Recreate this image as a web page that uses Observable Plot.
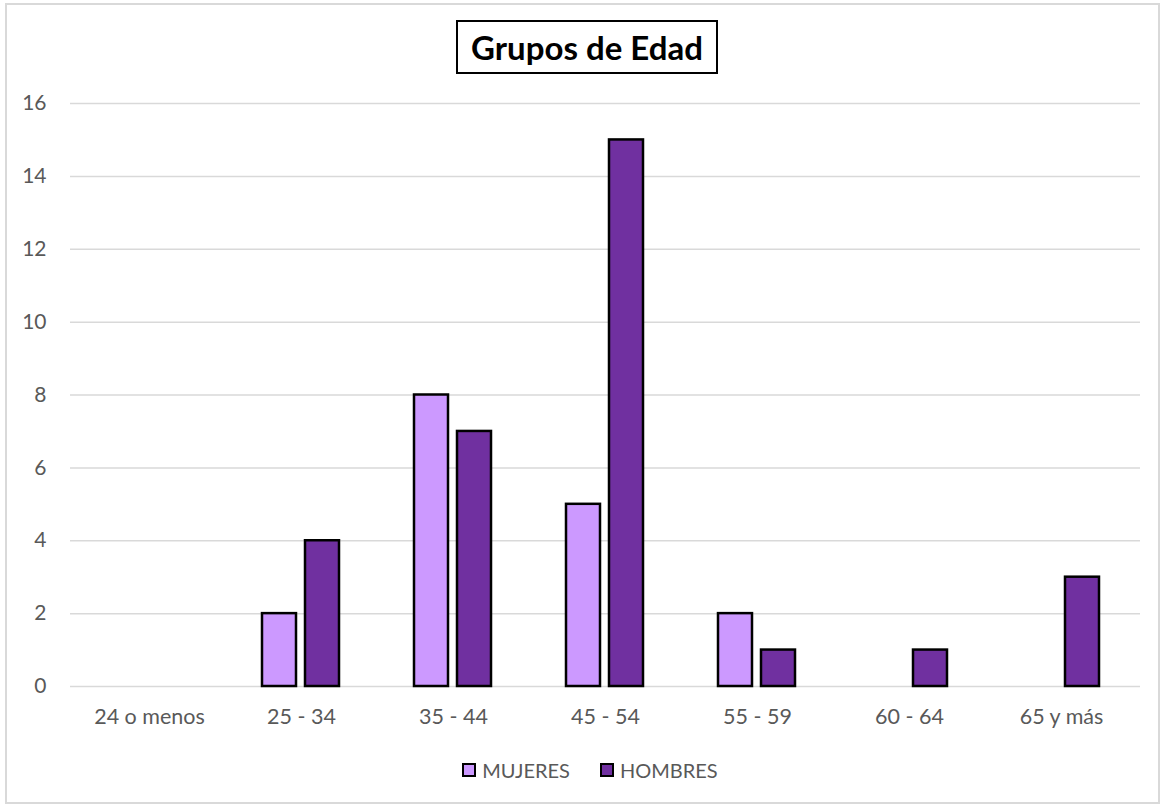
<!DOCTYPE html>
<html>
<head>
<meta charset="utf-8">
<script src="https://cdn.jsdelivr.net/npm/d3@7"></script>
<script src="https://cdn.jsdelivr.net/npm/@observablehq/plot@0.6"></script>
<style>
  html, body { margin: 0; padding: 0; background: #fff; }
  #wrap { position: relative; width: 1164px; height: 808px; overflow: hidden; font-family: Lato, "Open Sans", sans-serif; }
  #frame { position: absolute; left: 5px; top: 3px; width: 1151px; height: 797px; border: 2px solid #d9d9d9; }
  #title { position: absolute; left: 456px; top: 20px; width: 258px; height: 50px; border: 2px solid #000;
           display: flex; align-items: center; justify-content: center; font-weight: bold; font-size: 33px; color: #000; }
  #grid, #chart { position: absolute; left: 0; top: 80px; }
  #legend { position: absolute; left: 8px; top: 758px; width: 1164px; display: flex; justify-content: center; gap: 30px;
            font-size: 20px; color: #595959; }
  .item { display: flex; align-items: center; gap: 6px; }
  .sw { width: 14px; height: 14px; box-sizing: border-box; border: 2px solid #000; }
</style>
</head>
<body>
<div id="wrap">
  <div id="frame"></div>
  <div id="title">Grupos de Edad</div>
  <div id="grid"></div>
  <div id="chart"></div>
  <div id="legend"></div>
</div>
<script>
const categories = ["24 o menos", "25 - 34", "35 - 44", "45 - 54", "55 - 59", "60 - 64", "65 y más"];
const series = ["MUJERES", "HOMBRES"];
const mujeres = [0, 2, 8, 5, 2, 0, 0];
const hombres = [0, 4, 7, 15, 1, 1, 3];
const colors = ["#CC99FF", "#7030A0"];
const yTicks = [0, 2, 4, 6, 8, 10, 12, 14, 16];

const data = categories.flatMap((c, i) => [
  {cat: c, serie: series[0], value: mujeres[i]},
  {cat: c, serie: series[1], value: hombres[i]}
]);

const common = {
  width: 1164,
  height: 660,
  marginTop: 23,
  marginBottom: 54,
  marginLeft: 70,
  marginRight: 24,
  style: {fontFamily: "Lato, 'Open Sans', sans-serif", fontSize: "21px", color: "#595959", background: "transparent", overflow: "visible"}
};

// Background layer: horizontal gridlines and y axis across the whole plot area
const grid = Plot.plot({
  ...common,
  y: {domain: [0, 16], axis: null},
  marks: [
    Plot.ruleY(yTicks, {stroke: "#d9d9d9", strokeWidth: 1.5}),
    Plot.axisY({ticks: yTicks, tickSize: 0, tickPadding: 24, label: null, fill: "#595959", fontSize: 21})
  ]
});
document.getElementById("grid").appendChild(grid);

// Foreground layer: grouped bars faceted by age group
const chart = Plot.plot({
  ...common,
  fx: {domain: categories, paddingInner: 0.366, paddingOuter: 0.183, label: null, axis: null},
  x: {domain: series, axis: null, paddingInner: 0.2045, paddingOuter: 0.2045},
  y: {domain: [0, 16], axis: null},
  color: {domain: series, range: colors},
  marks: [
    Plot.axisFx({anchor: "bottom", tickSize: 0, tickPadding: 22, label: null, fill: "#595959", fontSize: 21.5}),
    Plot.barY(data, {fx: "cat", x: "serie", y: "value", fill: "serie", stroke: "#000", strokeWidth: 2.5,
                     filter: d => d.value > 0})
  ]
});
document.getElementById("chart").appendChild(chart);

const legend = document.getElementById("legend");
series.forEach((s, i) => {
  const item = document.createElement("div");
  item.className = "item";
  const sw = document.createElement("div");
  sw.className = "sw";
  sw.style.background = colors[i];
  const t = document.createElement("span");
  t.textContent = s;
  item.appendChild(sw);
  item.appendChild(t);
  legend.appendChild(item);
});
</script>
</body>
</html>
